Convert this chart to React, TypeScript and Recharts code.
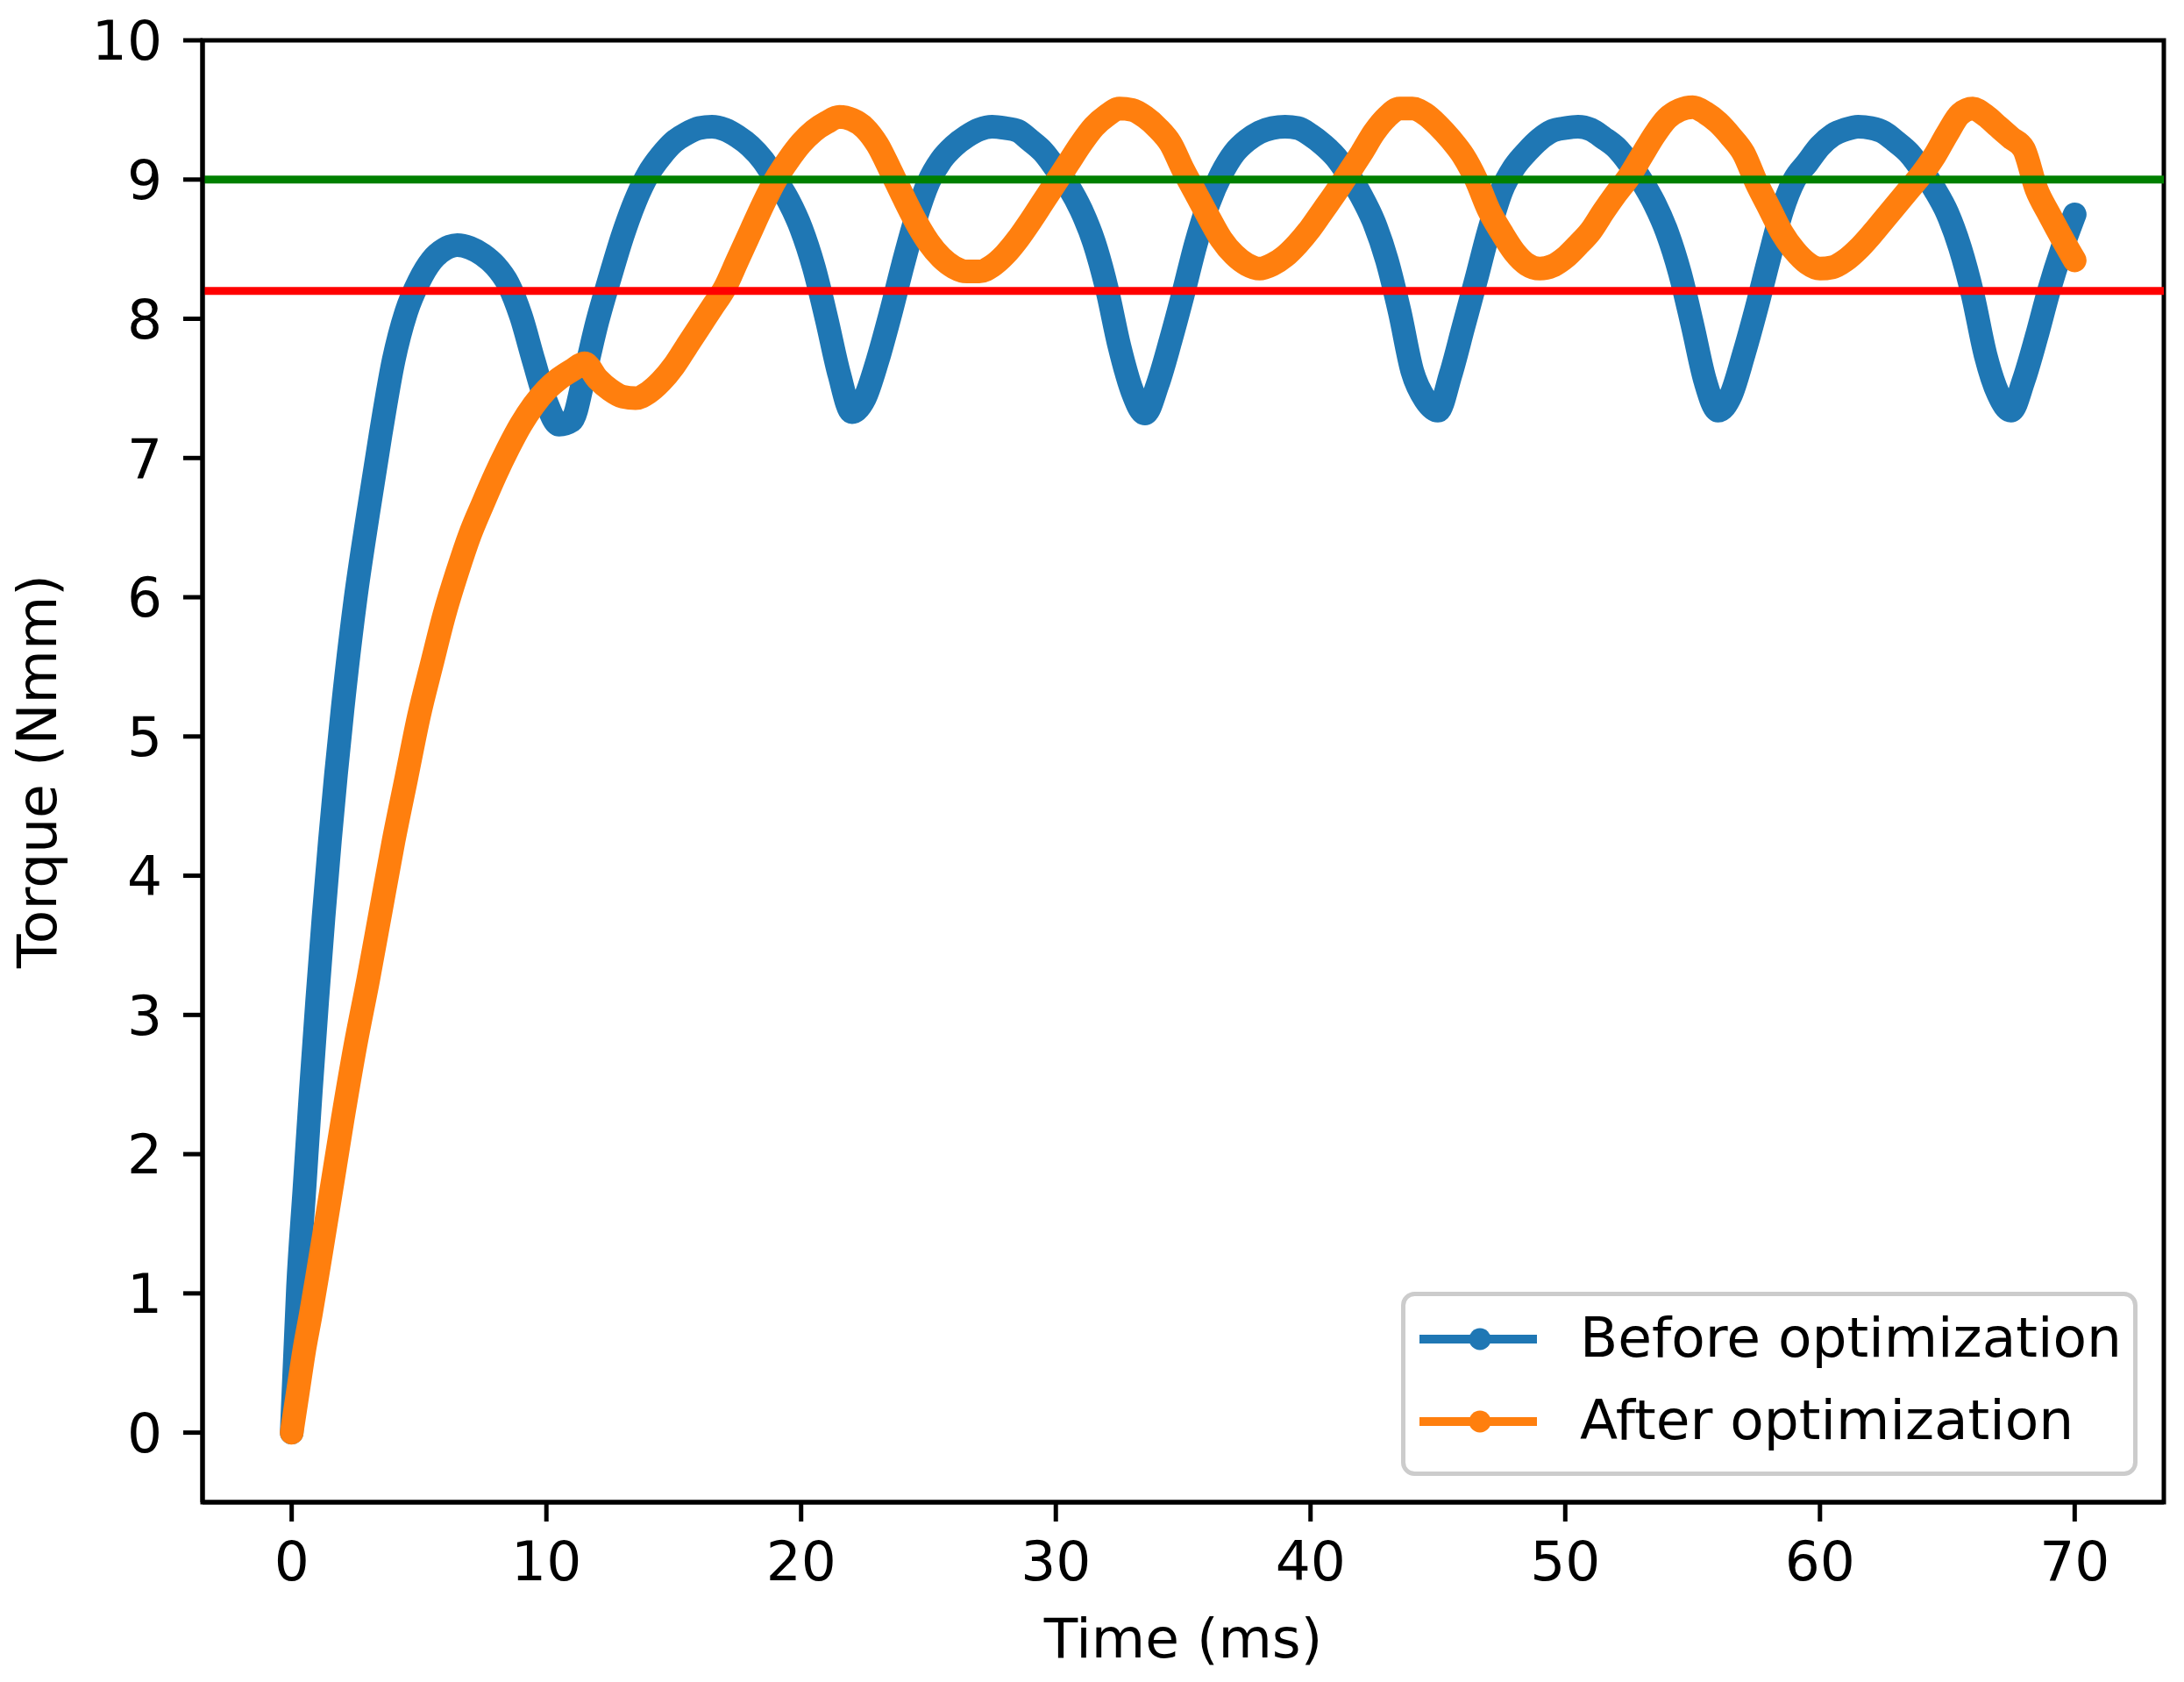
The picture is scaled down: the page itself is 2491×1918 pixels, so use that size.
import React from "react"
import {
  LineChart,
  Line,
  XAxis,
  YAxis,
  ReferenceLine,
  ReferenceArea,
  Legend,
} from "recharts"

/* Torque response before / after optimization. */

const timeMs = [
  0, 0.25, 0.5, 0.75, 1, 1.25, 1.5, 2, 2.5, 3, 3.5, 4, 4.5, 5, 5.5, 6, 6.5, 7, 7.5, 8, 8.5, 9, 9.5,
  10, 10.5, 11, 11.5, 12, 12.5, 13, 13.5, 14, 14.5, 15, 15.5, 16, 16.5, 17, 17.5, 18, 18.5, 19, 19.5,
  20, 20.5, 21, 21.5, 22, 22.5, 23, 23.5, 24, 24.5, 25, 25.5, 26, 26.5, 27, 27.5, 28, 28.5, 29, 29.5,
  30, 30.5, 31, 31.5, 32, 32.5, 33, 33.5, 34, 34.5, 35, 35.5, 36, 36.5, 37, 37.5, 38, 38.5, 39, 39.5,
  40, 40.5, 41, 41.5, 42, 42.5, 43, 43.5, 44, 44.5, 45, 45.5, 46, 46.5, 47, 47.5, 48, 48.5, 49, 49.5,
  50, 50.5, 51, 51.5, 52, 52.5, 53, 53.5, 54, 54.5, 55, 55.5, 56, 56.5, 57, 57.5, 58, 58.5, 59, 59.5,
  60, 60.5, 61, 61.5, 62, 62.5, 63, 63.5, 64, 64.5, 65, 65.5, 66, 66.5, 67, 67.5, 68, 68.5, 69, 69.5,
  70,
]

const beforeTorque = [
  0, 1.05, 1.75, 2.45, 3.1, 3.7, 4.25, 5.2, 5.98, 6.6, 7.18, 7.7, 8.05, 8.27, 8.42, 8.5, 8.53, 8.51, 8.46, 8.38, 8.25, 8.02, 7.7,
  7.4, 7.24, 7.27, 7.6, 7.98, 8.3, 8.6, 8.85, 9.04, 9.17, 9.27, 9.33, 9.37, 9.38, 9.36, 9.31, 9.24, 9.14, 9.0, 8.85,
  8.65, 8.37, 8.0, 7.6, 7.33, 7.43, 7.7, 8.03, 8.39, 8.72, 8.98, 9.14, 9.24, 9.31, 9.36, 9.38, 9.37, 9.35, 9.28, 9.2,
  9.08, 8.95, 8.78, 8.55, 8.22, 7.8, 7.48, 7.32, 7.53, 7.84, 8.18, 8.54, 8.83, 9.04, 9.19, 9.28, 9.34, 9.37, 9.38, 9.37,
  9.32, 9.25, 9.16, 9.03, 8.88, 8.69, 8.42, 8.05, 7.62, 7.42, 7.34, 7.6, 7.94, 8.28, 8.63, 8.92, 9.09, 9.2, 9.29, 9.35,
  9.37, 9.38, 9.36, 9.3, 9.23, 9.12, 8.99, 8.83, 8.62, 8.33, 7.95, 7.55, 7.34, 7.45, 7.74, 8.07, 8.43, 8.77, 9.0, 9.12,
  9.24, 9.32, 9.36, 9.38, 9.37, 9.34, 9.27, 9.19, 9.07, 8.93, 8.76, 8.51, 8.17, 7.74, 7.46, 7.34, 7.56, 7.87, 8.21, 8.5,
  8.75,
]

const afterTorque = [
  0, 0.3, 0.6, 0.85, 1.12, 1.4, 1.68, 2.25, 2.78, 3.25, 3.75, 4.25, 4.7, 5.15, 5.52, 5.88, 6.18, 6.45, 6.67, 6.88, 7.07, 7.24, 7.38,
  7.49, 7.57, 7.63, 7.68, 7.57, 7.49, 7.44, 7.43, 7.47, 7.55, 7.66, 7.8, 7.94, 8.08, 8.22, 8.42, 8.62, 8.82, 9.0, 9.14,
  9.26, 9.35, 9.41, 9.45, 9.43, 9.37, 9.25, 9.07, 8.88, 8.7, 8.55, 8.44, 8.37, 8.34, 8.34, 8.38, 8.46, 8.57, 8.7, 8.84,
  8.98, 9.12, 9.26, 9.38, 9.46, 9.51, 9.5, 9.45, 9.37, 9.26, 9.07, 8.9, 8.73, 8.57, 8.46, 8.39, 8.36, 8.39, 8.45, 8.54,
  8.65, 8.78, 8.91, 9.05, 9.19, 9.34, 9.45, 9.51, 9.51, 9.47, 9.39, 9.29, 9.17, 9.0, 8.78, 8.62, 8.48, 8.39, 8.36, 8.38,
  8.44, 8.53, 8.63, 8.77, 8.9, 9.02, 9.17, 9.32, 9.44, 9.5, 9.52, 9.48, 9.41, 9.31, 9.19, 8.98, 8.8, 8.62, 8.49, 8.4,
  8.36, 8.37, 8.42, 8.5, 8.6, 8.71, 8.82, 8.93, 9.04, 9.17, 9.33, 9.47, 9.51, 9.46, 9.38, 9.3, 9.22, 8.93, 8.75, 8.58,
  8.42,
]

const seriesNames = ["Before optimization", "After optimization"]
const xTicks = [0, 10, 20, 30, 40, 50, 60, 70]
const yTicks = [0, 1, 2, 3, 4, 5, 6, 7, 8, 9, 10]
const upperLimit = 9
const lowerLimit = 8.2

const rows = timeMs.map((t, i) => ({ t, before: beforeTorque[i], after: afterTorque[i] }))

const FONT = "DejaVu Sans"
const tickStyle = { fontSize: 63, fill: "#000", fontFamily: FONT }

function LegendBox(props: any) {
  const payload = [...(props.payload || [])].sort(
    (a: any, b: any) => seriesNames.indexOf(a.value) - seriesNames.indexOf(b.value),
  )
  return (
    <svg width={840} height={210} style={{ display: "block" }}>
      <rect x={2.5} y={2.5} width={835} height={205} rx={13} fill="#fff" fillOpacity={0.8} stroke="#cccccc" strokeWidth={5} />
      {payload.map((p: any, i: number) => {
        const cy = 54 + i * 94
        return (
          <g key={i}>
            <line x1={21} x2={155} y1={cy} y2={cy} stroke={p.color} strokeWidth={10} />
            <circle cx={90} cy={cy} r={12.5} fill={p.color} />
            <text x={204} y={cy + 20} fontSize={63} fontFamily={FONT} fill="#000">
              {p.value}
            </text>
          </g>
        )
      })}
    </svg>
  )
}

export default function App() {
  return (
    <div style={{ width: 2491, height: 1918, background: "#fff", fontFamily: FONT }}>
      <style>{`body{margin:0}`}</style>
      <LineChart width={2491} height={1918} data={rows} margin={{ top: 46, right: 23, bottom: 0, left: 0 }}>
        <XAxis
          dataKey="t"
          type="number"
          domain={[-3.5, 73.5]}
          ticks={xTicks}
          height={205}
          tick={tickStyle}
          tickSize={22}
          tickMargin={22}
          tickLine={{ stroke: "#000", strokeWidth: 5 }}
          axisLine={{ stroke: "#000", strokeWidth: 5 }}
          label={{
            content: (p: any) => (
              <text
                x={p.viewBox.x + p.viewBox.width / 2}
                y={1890}
                textAnchor="middle"
                fontSize={63}
                fontFamily={FONT}
                fill="#000"
              >
                Time (ms)
              </text>
            ),
          }}
        />
        <YAxis
          type="number"
          domain={[-0.5, 10]}
          ticks={yTicks}
          width={231}
          tick={tickStyle}
          tickSize={22}
          tickMargin={24}
          tickLine={{ stroke: "#000", strokeWidth: 5 }}
          axisLine={{ stroke: "#000", strokeWidth: 5 }}
          label={{
            content: (p: any) => {
              const cy = p.viewBox.y + p.viewBox.height / 2
              return (
                <text
                  x={64}
                  y={cy}
                  transform={`rotate(-90 64 ${cy})`}
                  textAnchor="middle"
                  fontSize={63}
                  fontFamily={FONT}
                  fill="#000"
                >
                  Torque (Nmm)
                </text>
              )
            },
          }}
        />
        <Line
          dataKey="before"
          name={seriesNames[0]}
          type="monotone"
          stroke="#1f77b4"
          strokeWidth={27}
          strokeLinecap="round"
          strokeLinejoin="round"
          dot={false}
          isAnimationActive={false}
        />
        <Line
          dataKey="after"
          name={seriesNames[1]}
          type="monotone"
          stroke="#ff7f0e"
          strokeWidth={27}
          strokeLinecap="round"
          strokeLinejoin="round"
          dot={false}
          isAnimationActive={false}
        />
        <ReferenceLine y={upperLimit} stroke="#008000" strokeWidth={9} />
        <ReferenceLine y={lowerLimit} stroke="#ff0000" strokeWidth={9} />
        <ReferenceArea x1={-3.5} x2={73.5} y1={-0.5} y2={10} fill="none" stroke="#000" strokeWidth={5} />
        <Legend
          layout="vertical"
          align="center"
          verticalAlign="middle"
          content={LegendBox}
          wrapperStyle={{ position: "absolute", left: 1598, top: 1473, width: 840, height: 210 }}
        />
      </LineChart>
    </div>
  )
}
